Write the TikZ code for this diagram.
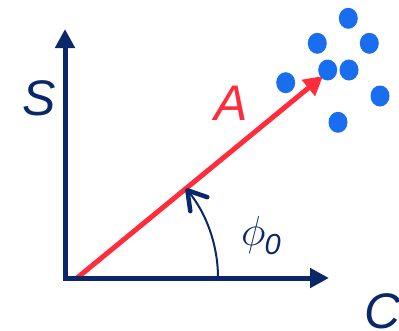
\documentclass[tikz,border=0pt]{standalone}
\usepackage{graphicx}
\usepackage{fontspec}
\setmainfont{Liberation Sans}
\usetikzlibrary{arrows.meta,shapes.geometric}
\definecolor{navy}{RGB}{10,40,105}
\definecolor{vred}{RGB}{255,45,60}
\definecolor{dotblue}{RGB}{25,110,240}
\begin{document}
\begin{tikzpicture}[x=1pt,y=-1pt,
  axis/.style={draw=navy,line width=5pt,line join=miter,{Triangle[length=19pt,width=19pt]}-{Triangle[length=19pt,width=19pt]}},
  vec/.style={draw=vred,line width=5pt,-{Triangle[length=19pt,width=20pt]}},
  anglearc/.style={draw=navy,line width=2pt,-{Straight Barb[length=18pt,width=22pt,line width=4.5pt,round]}},
  lab/.style={inner sep=0pt,font=\fontsize{50}{60}\selectfont\itshape},
  pt/.style={fill=dotblue,draw=none,ellipse,minimum width=19pt,minimum height=21pt,inner sep=0pt}]
\useasboundingbox (0,0) rectangle (399,330);
% coordinates
\coordinate (O) at (65,278);
\coordinate (Stip) at (65,29);
\coordinate (Ctip) at (329,278);
\coordinate (V0) at (77,278);
\coordinate (Vtip) at (323,76);
% vector A
\draw[vec] (V0) -- (Vtip);
% axes
\draw[axis] (Stip) -- (O) -- (Ctip);
% angle arc
\draw[anglearc] (218,278) arc[start angle=0,end angle=-39.4,radius=141];
% labels
\node[lab,text=navy] (S) at (39,98.5) {S};
\node[lab,text=vred] (A) at (231,103.5) {A};
\node[lab,text=navy] (C) at (383,311.5) {C};
\node[inner sep=0pt,anchor=base west,text=navy] (phi) at (241,245)
  {\scalebox{1.69}{\Huge$\phi$}\kern-1pt\raisebox{-9pt}{\fontsize{29}{34}\selectfont\itshape 0}};
% dots
\node[pt] (d1) at (348.3,18.3) {};
\node[pt] (d2) at (317.3,43.3) {};
\node[pt] (d3) at (369.3,43.3) {};
\node[pt] (d4) at (327.7,70) {};
\node[pt] (d5) at (349,70) {};
\node[pt] (d6) at (285.7,82.7) {};
\node[pt] (d7) at (380,96) {};
\node[pt] (d8) at (338,122.3) {};
\end{tikzpicture}
\end{document}
